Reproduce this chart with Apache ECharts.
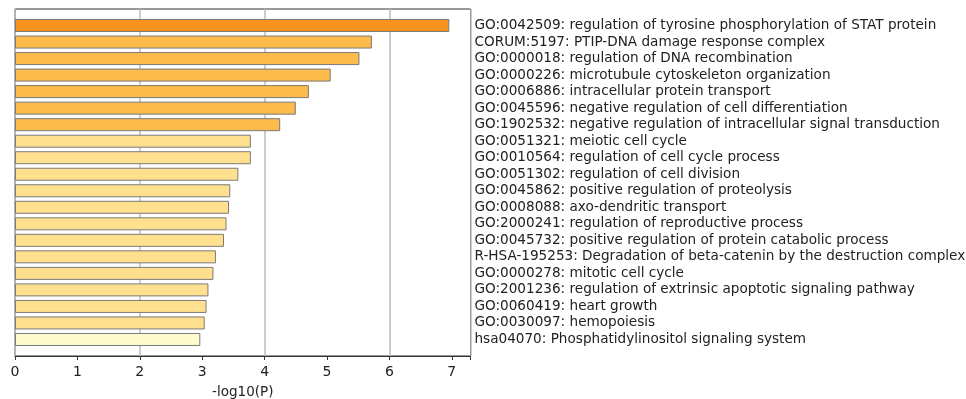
<!DOCTYPE html>
<html>
<head>
<meta charset="utf-8">
<script src="https://cdn.jsdelivr.net/npm/echarts@6/dist/echarts.min.js"></script>
<style>html,body{margin:0;padding:0;background:#fff}#c{width:966px;height:399px}</style>
</head>
<body>
<div id="c"></div>
<script>
var terms = [
  "GO:0042509: regulation of tyrosine phosphorylation of STAT protein",
  "CORUM:5197: PTIP-DNA damage response complex",
  "GO:0000018: regulation of DNA recombination",
  "GO:0000226: microtubule cytoskeleton organization",
  "GO:0006886: intracellular protein transport",
  "GO:0045596: negative regulation of cell differentiation",
  "GO:1902532: negative regulation of intracellular signal transduction",
  "GO:0051321: meiotic cell cycle",
  "GO:0010564: regulation of cell cycle process",
  "GO:0051302: regulation of cell division",
  "GO:0045862: positive regulation of proteolysis",
  "GO:0008088: axo-dendritic transport",
  "GO:2000241: regulation of reproductive process",
  "GO:0045732: positive regulation of protein catabolic process",
  "R-HSA-195253: Degradation of beta-catenin by the destruction complex",
  "GO:0000278: mitotic cell cycle",
  "GO:2001236: regulation of extrinsic apoptotic signaling pathway",
  "GO:0060419: heart growth",
  "GO:0030097: hemopoiesis",
  "hsa04070: Phosphatidylinositol signaling system"
];
var negLogP = [6.96, 5.72, 5.52, 5.06, 4.71, 4.50, 4.25, 3.78, 3.78, 3.58, 3.45, 3.43, 3.39, 3.35, 3.22, 3.18, 3.10, 3.07, 3.04, 2.97];
var xTicks = [0, 1, 2, 3, 4, 5, 6, 7];

function colorFor(v) {
  if (v >= 6) return '#F7941E';
  if (v >= 4) return '#FDBB4B';
  if (v >= 3) return '#FEE08E';
  return '#FFFBCF';
}

// pad one empty slot at each end so the bars sit one band inside the frame
var axisCats = [''].concat(terms).concat(['']);
var barData = [null].concat(negLogP.map(function (v) {
  return { value: v, itemStyle: { color: colorFor(v) } };
})).concat([null]);

var chart = echarts.init(document.getElementById('c'), null, { renderer: 'canvas' });
chart.setOption({
  animation: false,
  backgroundColor: '#fff',
  textStyle: { fontFamily: 'DejaVu Sans' },
  grid: { left: 15, right: 495.5, top: 9, bottom: 43, show: true, borderColor: '#333', borderWidth: 1,
    containLabel: false, outerBoundsMode: 'none' },
  xAxis: [{
    type: 'value', min: 0, max: 7.3, interval: 1,
    axisLine: { show: true, lineStyle: { color: '#333', width: 1 } },
    axisTick: { show: true, length: 4, lineStyle: { color: '#333' } },
    axisLabel: { show: true, color: '#222', fontSize: 14, fontFamily: 'DejaVu Sans', margin: 9,
      formatter: function (v) { return xTicks.indexOf(v) >= 0 ? String(v) : ''; } },
    splitLine: { show: false },
    name: '-log10(P)', nameLocation: 'middle', nameGap: 29,
    nameTextStyle: { color: '#222', fontSize: 13.5, fontFamily: 'DejaVu Sans' }
  }, {
    type: 'value', min: 0, max: 7.3, interval: 2, position: 'bottom',
    axisLine: { show: false }, axisTick: { show: false }, axisLabel: { show: false },
    splitLine: { show: true, lineStyle: { color: '#bdbdbd', width: 1.5 } }
  }],
  yAxis: {
    type: 'category', data: axisCats, inverse: true, boundaryGap: false, position: 'right',
    axisLine: { show: false }, axisTick: { show: false }, splitLine: { show: false },
    axisLabel: { interval: 0, color: '#222', fontSize: 13.6, fontFamily: 'DejaVu Sans', margin: 4, align: 'left' }
  },
  series: [{
    type: 'bar', xAxisIndex: 0, data: barData, barWidth: 13,
    itemStyle: { borderColor: '#7a7a7a', borderWidth: 1 }
  }]
});
</script>
</body>
</html>
